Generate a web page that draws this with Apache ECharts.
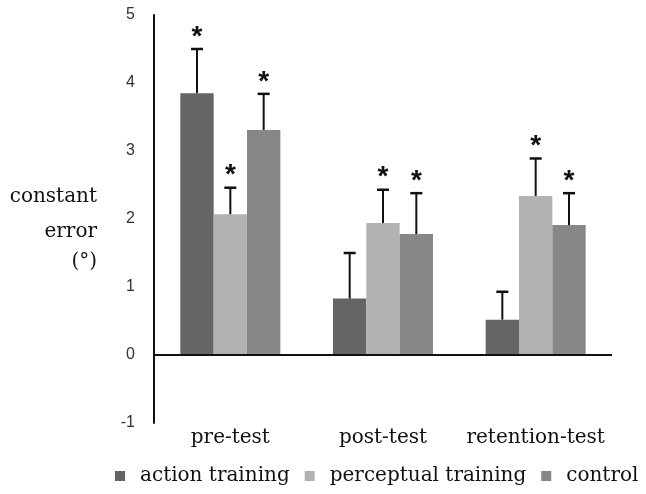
<!DOCTYPE html>
<html>
<head>
<meta charset="utf-8">
<script src="https://cdn.jsdelivr.net/npm/echarts@6/dist/echarts.min.js"></script>
<style>
  html, body { margin: 0; padding: 0; background: #fff; }
  #chart { width: 646px; height: 494px; }
</style>
</head>
<body>
<div id="chart"></div>
<script>
// Test phases and training groups
var categories = ['pre-test', 'post-test', 'retention-test'];
var groups = ['action training', 'perceptual training', 'control'];

// Mean constant error (degrees) per group, one value per phase
var actionMean = [3.85, 0.83, 0.52];
var perceptualMean = [2.07, 1.94, 2.34];
var controlMean = [3.31, 1.78, 1.91];

// Upper end of the error bars (mean + SD)
var actionUpper = [4.50, 1.50, 0.93];
var perceptualUpper = [2.46, 2.43, 2.89];
var controlUpper = [3.84, 2.38, 2.38];

// Significance markers (1 = asterisk drawn)
var actionSig = [1, 0, 0];
var perceptualSig = [1, 1, 1];
var controlSig = [1, 1, 1];

// Y axis tick values
var yTicks = [-1, 0, 1, 2, 3, 4, 5];

// Y axis title, one line per entry
var yTitleLines = ['constant', 'error', '(°)'];

var colors = ['#656565', '#b2b2b2', '#878787'];
var means = [actionMean, perceptualMean, controlMean];
var uppers = [actionUpper, perceptualUpper, controlUpper];
var sigs = [actionSig, perceptualSig, controlSig];

var CATEGORY_GAP = 0.345; // fraction of band left empty
var serif = '"DejaVu Serif", serif';

function errorSeries(gi) {
  var data = categories.map(function (c, i) {
    return [i, means[gi][i], uppers[gi][i], sigs[gi][i]];
  });
  return {
    type: 'custom',
    name: groups[gi] + ' error',
    silent: true,
    z: 5,
    data: data,
    renderItem: function (params, api) {
      var band = api.size([1, 0])[0];
      var barW = band * (1 - CATEGORY_GAP) / 3;
      var center = api.coord([api.value(0), 0])[0];
      var x = center + (gi - 1) * barW;
      var yLow = api.coord([api.value(0), api.value(1)])[1];
      var yHigh = api.coord([api.value(0), api.value(2)])[1];
      var cap = 6;
      var children = [
        { type: 'line', shape: { x1: x, y1: yLow, x2: x, y2: yHigh },
          style: { stroke: '#111', lineWidth: 2 } },
        { type: 'line', shape: { x1: x - cap, y1: yHigh, x2: x + cap, y2: yHigh },
          style: { stroke: '#111', lineWidth: 2.5 } }
      ];
      if (api.value(3)) {
        children.push({
          type: 'text',
          style: {
            text: '*', x: x, y: yHigh - 26,
            align: 'center', verticalAlign: 'top',
            font: 'bold 28px "Liberation Sans", sans-serif', fill: '#111'
          }
        });
      }
      return { type: 'group', children: children };
    }
  };
}

var barSeries = groups.map(function (g, gi) {
  return {
    type: 'bar',
    name: g,
    data: means[gi],
    barGap: '0%',
    barCategoryGap: (CATEGORY_GAP * 100) + '%',
    itemStyle: { color: colors[gi] },
    emphasis: { disabled: true }
  };
});

// Zero reference line across the plot
barSeries[0].markLine = {
  silent: true,
  symbol: 'none',
  label: { show: false },
  lineStyle: { color: '#111', width: 2, type: 'solid' },
  data: [{ yAxis: 0 }]
};

var titleY = [197, 232, 262];
var graphics = yTitleLines.map(function (t, i) {
  return {
    type: 'text',
    style: {
      text: t, x: 97, y: titleY[i],
      align: 'right', verticalAlign: 'middle',
      font: '20px ' + serif, fill: '#111'
    }
  };
});

var chart = echarts.init(document.getElementById('chart'), null, { renderer: 'canvas' });
chart.setOption({
  animation: false,
  backgroundColor: '#fff',
  grid: { left: 154, right: 34, top: 15, bottom: 71, containLabel: false },
  legend: {
    data: groups,
    top: 466,
    left: 115,
    width: 531,
    padding: 0,
    icon: 'rect',
    itemWidth: 10,
    itemHeight: 10,
    itemGap: 15,
    textStyle: { fontFamily: serif, fontSize: 20, color: '#111', padding: [0, 0, 0, 10] }
  },
  xAxis: {
    type: 'category',
    data: categories,
    position: 'bottom',
    axisLine: { show: false },
    axisTick: { show: false },
    axisLabel: { interval: 0, fontFamily: serif, fontSize: 20, color: '#111', margin: 5 }
  },
  yAxis: {
    type: 'value',
    min: yTicks[0],
    max: yTicks[yTicks.length - 1],
    interval: 1,
    axisLine: { show: true, lineStyle: { color: '#111', width: 2 } },
    axisTick: { show: false },
    splitLine: { show: false },
    axisLabel: { fontFamily: '"Liberation Sans", Arial, sans-serif', fontSize: 16, color: '#333', margin: 19 }
  },
  graphic: graphics,
  series: barSeries.concat([errorSeries(0), errorSeries(1), errorSeries(2)])
});
</script>
</body>
</html>
